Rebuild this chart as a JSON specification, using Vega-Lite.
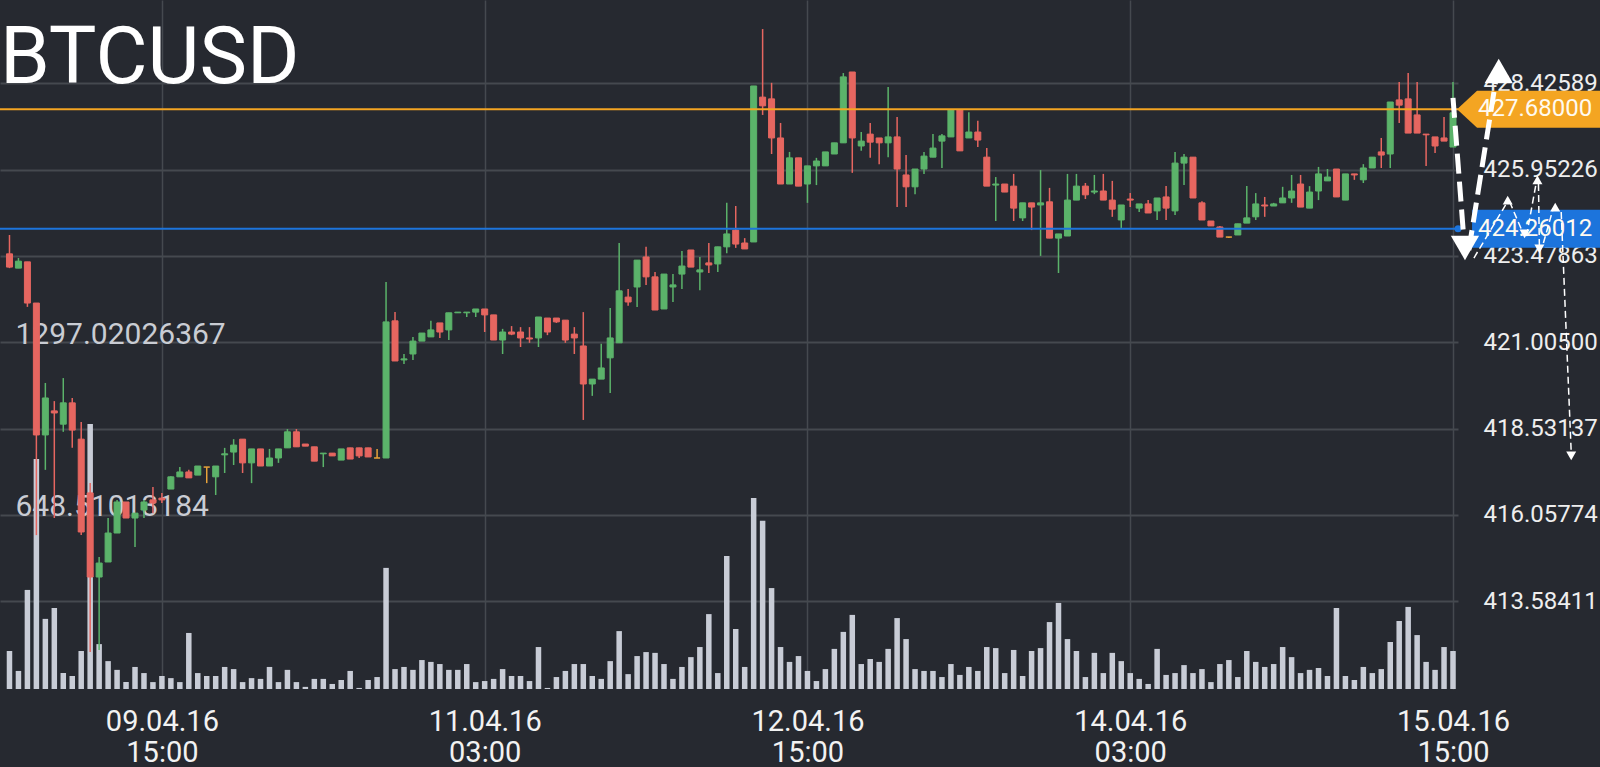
{
"$schema": "https://vega.github.io/schema/vega-lite/v6.json",
"width": 1458,
"height": 689,
"autosize": {"type": "none"},
"padding": {"left": 0, "top": 0, "right": 142, "bottom": 78},
"background": "#262930",
"config": {"view": {"stroke": null}, "font": "Roboto"},
"datasets": {
"candles": [
{"t":"2016-04-08T22:00Z","o":423.54,"h":424.08,"l":423.13,"c":423.16,"v":143},
{"t":"2016-04-08T23:00Z","o":423.13,"h":423.42,"l":423.13,"c":423.33,"v":68},
{"t":"2016-04-09T00:00Z","o":423.31,"h":423.31,"l":422.02,"c":422.13,"v":373},
{"t":"2016-04-09T01:00Z","o":422.13,"h":422.13,"l":415.48,"c":418.35,"v":866},
{"t":"2016-04-09T02:00Z","o":418.35,"h":419.84,"l":417.35,"c":419.41,"v":264},
{"t":"2016-04-09T03:00Z","o":419.04,"h":419.32,"l":415.97,"c":418.98,"v":305},
{"t":"2016-04-09T04:00Z","o":418.66,"h":419.98,"l":418.44,"c":419.27,"v":60},
{"t":"2016-04-09T05:00Z","o":419.27,"h":419.41,"l":417.98,"c":418.49,"v":49},
{"t":"2016-04-09T06:00Z","o":418.23,"h":418.72,"l":415.48,"c":415.57,"v":143},
{"t":"2016-04-09T07:00Z","o":416.69,"h":416.97,"l":412.13,"c":414.28,"v":998},
{"t":"2016-04-09T08:00Z","o":414.28,"h":414.85,"l":412.19,"c":414.68,"v":169},
{"t":"2016-04-09T09:00Z","o":414.71,"h":415.97,"l":414.71,"c":415.54,"v":105},
{"t":"2016-04-09T10:00Z","o":415.54,"h":416.49,"l":415.54,"c":416.43,"v":72},
{"t":"2016-04-09T11:00Z","o":416.43,"h":416.43,"l":415.97,"c":415.97,"v":26},
{"t":"2016-04-09T12:00Z","o":415.97,"h":416.11,"l":415.14,"c":416.11,"v":83},
{"t":"2016-04-09T13:00Z","o":416.20,"h":416.49,"l":415.97,"c":416.43,"v":60},
{"t":"2016-04-09T14:00Z","o":416.49,"h":416.86,"l":416.11,"c":416.40,"v":26},
{"t":"2016-04-09T15:00Z","o":416.54,"h":416.69,"l":416.40,"c":416.49,"v":49},
{"t":"2016-04-09T16:00Z","o":416.80,"h":417.17,"l":416.80,"c":417.15,"v":41},
{"t":"2016-04-09T17:00Z","o":417.15,"h":417.43,"l":417.15,"c":417.29,"v":26},
{"t":"2016-04-09T18:00Z","o":417.29,"h":417.35,"l":417.12,"c":417.12,"v":211},
{"t":"2016-04-09T19:00Z","o":417.20,"h":417.46,"l":417.20,"c":417.46,"v":60},
{"t":"2016-04-09T20:00Z","o":417.43,"h":417.43,"l":416.97,"c":417.43,"v":49},
{"t":"2016-04-09T21:00Z","o":417.15,"h":417.46,"l":416.63,"c":417.46,"v":49},
{"t":"2016-04-09T22:00Z","o":417.78,"h":417.98,"l":417.26,"c":417.81,"v":83},
{"t":"2016-04-09T23:00Z","o":417.86,"h":418.23,"l":417.49,"c":418.06,"v":75},
{"t":"2016-04-10T00:00Z","o":418.23,"h":418.23,"l":417.26,"c":417.55,"v":26},
{"t":"2016-04-10T01:00Z","o":417.55,"h":417.95,"l":416.97,"c":417.95,"v":41},
{"t":"2016-04-10T02:00Z","o":417.95,"h":417.95,"l":417.46,"c":417.46,"v":38},
{"t":"2016-04-10T03:00Z","o":417.46,"h":417.95,"l":417.46,"c":417.69,"v":83},
{"t":"2016-04-10T04:00Z","o":417.69,"h":417.95,"l":417.55,"c":417.95,"v":26},
{"t":"2016-04-10T05:00Z","o":417.98,"h":418.52,"l":417.98,"c":418.44,"v":72},
{"t":"2016-04-10T06:00Z","o":418.44,"h":418.52,"l":418.01,"c":418.01,"v":26},
{"t":"2016-04-10T07:00Z","o":418.09,"h":418.09,"l":418.03,"c":418.03,"v":8},
{"t":"2016-04-10T08:00Z","o":418.01,"h":418.01,"l":417.60,"c":417.60,"v":38},
{"t":"2016-04-10T09:00Z","o":417.81,"h":417.83,"l":417.43,"c":417.83,"v":38},
{"t":"2016-04-10T10:00Z","o":417.83,"h":417.83,"l":417.75,"c":417.75,"v":19},
{"t":"2016-04-10T11:00Z","o":417.63,"h":417.95,"l":417.63,"c":417.95,"v":34},
{"t":"2016-04-10T12:00Z","o":417.98,"h":417.98,"l":417.66,"c":417.66,"v":68},
{"t":"2016-04-10T13:00Z","o":417.98,"h":417.98,"l":417.69,"c":417.75,"v":4},
{"t":"2016-04-10T14:00Z","o":417.98,"h":417.98,"l":417.72,"c":417.72,"v":34},
{"t":"2016-04-10T15:00Z","o":417.69,"h":417.95,"l":417.69,"c":417.69,"v":45},
{"t":"2016-04-10T16:00Z","o":417.69,"h":422.73,"l":417.69,"c":421.59,"v":456},
{"t":"2016-04-10T17:00Z","o":421.62,"h":421.87,"l":420.47,"c":420.47,"v":75},
{"t":"2016-04-10T18:00Z","o":420.50,"h":420.67,"l":420.38,"c":420.53,"v":83},
{"t":"2016-04-10T19:00Z","o":420.67,"h":421.16,"l":420.50,"c":421.04,"v":72},
{"t":"2016-04-10T20:00Z","o":421.04,"h":421.27,"l":421.04,"c":421.27,"v":109},
{"t":"2016-04-10T21:00Z","o":421.16,"h":421.62,"l":421.16,"c":421.36,"v":102},
{"t":"2016-04-10T22:00Z","o":421.56,"h":421.56,"l":421.13,"c":421.30,"v":94},
{"t":"2016-04-10T23:00Z","o":421.36,"h":421.85,"l":421.07,"c":421.85,"v":72},
{"t":"2016-04-11T00:00Z","o":421.85,"h":421.87,"l":421.85,"c":421.87,"v":72},
{"t":"2016-04-11T01:00Z","o":421.85,"h":421.87,"l":421.73,"c":421.87,"v":94},
{"t":"2016-04-11T02:00Z","o":421.87,"h":421.96,"l":421.73,"c":421.96,"v":26},
{"t":"2016-04-11T03:00Z","o":421.96,"h":421.96,"l":421.30,"c":421.79,"v":30},
{"t":"2016-04-11T04:00Z","o":421.79,"h":421.79,"l":421.07,"c":421.07,"v":38},
{"t":"2016-04-11T05:00Z","o":421.07,"h":421.39,"l":420.67,"c":421.30,"v":75},
{"t":"2016-04-11T06:00Z","o":421.30,"h":421.47,"l":421.21,"c":421.24,"v":49},
{"t":"2016-04-11T07:00Z","o":421.30,"h":421.44,"l":420.87,"c":421.13,"v":49},
{"t":"2016-04-11T08:00Z","o":421.13,"h":421.44,"l":420.99,"c":421.10,"v":30},
{"t":"2016-04-11T09:00Z","o":421.13,"h":421.73,"l":420.87,"c":421.73,"v":158},
{"t":"2016-04-11T10:00Z","o":421.70,"h":421.70,"l":421.21,"c":421.30,"v":4},
{"t":"2016-04-11T11:00Z","o":421.70,"h":421.70,"l":421.56,"c":421.59,"v":45},
{"t":"2016-04-11T12:00Z","o":421.64,"h":421.64,"l":420.99,"c":421.07,"v":68},
{"t":"2016-04-11T13:00Z","o":421.24,"h":421.44,"l":420.67,"c":421.13,"v":94},
{"t":"2016-04-11T14:00Z","o":420.90,"h":421.87,"l":418.78,"c":419.81,"v":94},
{"t":"2016-04-11T15:00Z","o":419.81,"h":419.95,"l":419.47,"c":419.95,"v":49},
{"t":"2016-04-11T16:00Z","o":419.95,"h":420.96,"l":419.95,"c":420.27,"v":38},
{"t":"2016-04-11T17:00Z","o":420.56,"h":421.99,"l":419.55,"c":421.13,"v":105},
{"t":"2016-04-11T18:00Z","o":420.99,"h":423.85,"l":420.99,"c":422.48,"v":218},
{"t":"2016-04-11T19:00Z","o":422.30,"h":422.53,"l":422.05,"c":422.16,"v":56},
{"t":"2016-04-11T20:00Z","o":422.59,"h":423.36,"l":422.02,"c":423.36,"v":124},
{"t":"2016-04-11T21:00Z","o":423.45,"h":423.74,"l":422.65,"c":422.88,"v":139},
{"t":"2016-04-11T22:00Z","o":422.88,"h":423.02,"l":421.93,"c":421.93,"v":136},
{"t":"2016-04-11T23:00Z","o":421.96,"h":422.96,"l":421.96,"c":422.96,"v":94},
{"t":"2016-04-12T00:00Z","o":422.59,"h":422.96,"l":422.16,"c":422.65,"v":38},
{"t":"2016-04-12T01:00Z","o":422.96,"h":423.62,"l":422.53,"c":423.19,"v":83},
{"t":"2016-04-12T02:00Z","o":423.65,"h":423.65,"l":423.16,"c":423.16,"v":120},
{"t":"2016-04-12T03:00Z","o":423.02,"h":423.45,"l":422.50,"c":423.08,"v":158},
{"t":"2016-04-12T04:00Z","o":423.28,"h":423.85,"l":422.99,"c":423.22,"v":282},
{"t":"2016-04-12T05:00Z","o":423.25,"h":423.74,"l":423.02,"c":423.74,"v":60},
{"t":"2016-04-12T06:00Z","o":423.74,"h":425.00,"l":423.56,"c":424.11,"v":501},
{"t":"2016-04-12T07:00Z","o":424.22,"h":424.91,"l":423.71,"c":423.82,"v":226},
{"t":"2016-04-12T08:00Z","o":423.85,"h":423.99,"l":423.68,"c":423.68,"v":83},
{"t":"2016-04-12T09:00Z","o":423.88,"h":428.35,"l":423.88,"c":428.35,"v":719},
{"t":"2016-04-12T10:00Z","o":428.03,"h":429.98,"l":427.52,"c":427.78,"v":633},
{"t":"2016-04-12T11:00Z","o":427.98,"h":428.44,"l":426.40,"c":426.86,"v":380},
{"t":"2016-04-12T12:00Z","o":426.86,"h":427.29,"l":425.54,"c":425.54,"v":158},
{"t":"2016-04-12T13:00Z","o":425.54,"h":426.46,"l":425.54,"c":426.29,"v":102},
{"t":"2016-04-12T14:00Z","o":426.29,"h":426.29,"l":425.48,"c":425.48,"v":124},
{"t":"2016-04-12T15:00Z","o":425.54,"h":426.06,"l":425.00,"c":426.06,"v":68},
{"t":"2016-04-12T16:00Z","o":426.06,"h":426.29,"l":425.51,"c":426.20,"v":30},
{"t":"2016-04-12T17:00Z","o":426.06,"h":426.46,"l":426.06,"c":426.46,"v":75},
{"t":"2016-04-12T18:00Z","o":426.40,"h":426.72,"l":426.40,"c":426.72,"v":151},
{"t":"2016-04-12T19:00Z","o":426.72,"h":428.72,"l":426.72,"c":428.61,"v":215},
{"t":"2016-04-12T20:00Z","o":428.75,"h":428.75,"l":425.86,"c":426.86,"v":279},
{"t":"2016-04-12T21:00Z","o":426.63,"h":427.03,"l":426.49,"c":426.77,"v":94},
{"t":"2016-04-12T22:00Z","o":426.97,"h":427.29,"l":426.29,"c":426.74,"v":113},
{"t":"2016-04-12T23:00Z","o":426.86,"h":426.86,"l":426.11,"c":426.72,"v":102},
{"t":"2016-04-13T00:00Z","o":426.72,"h":428.32,"l":426.31,"c":426.89,"v":151},
{"t":"2016-04-13T01:00Z","o":426.89,"h":427.46,"l":424.88,"c":425.97,"v":267},
{"t":"2016-04-13T02:00Z","o":425.80,"h":426.37,"l":424.88,"c":425.46,"v":188},
{"t":"2016-04-13T03:00Z","o":425.46,"h":425.97,"l":425.25,"c":425.97,"v":75},
{"t":"2016-04-13T04:00Z","o":425.97,"h":426.46,"l":425.83,"c":426.34,"v":68},
{"t":"2016-04-13T05:00Z","o":426.31,"h":426.97,"l":426.31,"c":426.57,"v":68},
{"t":"2016-04-13T06:00Z","o":426.77,"h":426.97,"l":426.00,"c":426.92,"v":45},
{"t":"2016-04-13T07:00Z","o":426.89,"h":427.66,"l":426.89,"c":427.66,"v":94},
{"t":"2016-04-13T08:00Z","o":427.66,"h":427.66,"l":426.49,"c":426.49,"v":53},
{"t":"2016-04-13T09:00Z","o":426.86,"h":427.60,"l":426.86,"c":427.03,"v":83},
{"t":"2016-04-13T10:00Z","o":427.03,"h":427.35,"l":426.60,"c":426.80,"v":68},
{"t":"2016-04-13T11:00Z","o":426.31,"h":426.57,"l":425.48,"c":425.48,"v":158},
{"t":"2016-04-13T12:00Z","o":425.51,"h":425.74,"l":424.48,"c":425.54,"v":154},
{"t":"2016-04-13T13:00Z","o":425.54,"h":425.54,"l":425.31,"c":425.31,"v":60},
{"t":"2016-04-13T14:00Z","o":425.48,"h":425.83,"l":424.48,"c":424.85,"v":147},
{"t":"2016-04-13T15:00Z","o":424.57,"h":425.00,"l":424.48,"c":425.00,"v":49},
{"t":"2016-04-13T16:00Z","o":425.00,"h":425.00,"l":424.22,"c":424.88,"v":143},
{"t":"2016-04-13T17:00Z","o":424.94,"h":425.94,"l":423.48,"c":425.00,"v":154},
{"t":"2016-04-13T18:00Z","o":425.03,"h":425.43,"l":423.99,"c":423.99,"v":252},
{"t":"2016-04-13T19:00Z","o":423.99,"h":424.11,"l":422.99,"c":424.11,"v":324},
{"t":"2016-04-13T20:00Z","o":424.05,"h":425.83,"l":424.05,"c":425.08,"v":188},
{"t":"2016-04-13T21:00Z","o":425.08,"h":425.83,"l":425.08,"c":425.48,"v":143},
{"t":"2016-04-13T22:00Z","o":425.48,"h":425.57,"l":425.11,"c":425.23,"v":45},
{"t":"2016-04-13T23:00Z","o":425.31,"h":425.80,"l":425.25,"c":425.34,"v":136},
{"t":"2016-04-14T00:00Z","o":425.34,"h":425.83,"l":425.08,"c":425.08,"v":60},
{"t":"2016-04-14T01:00Z","o":425.08,"h":425.63,"l":424.60,"c":424.82,"v":136},
{"t":"2016-04-14T02:00Z","o":424.51,"h":424.94,"l":424.28,"c":424.94,"v":105},
{"t":"2016-04-14T03:00Z","o":425.11,"h":425.28,"l":424.88,"c":425.08,"v":60},
{"t":"2016-04-14T04:00Z","o":424.85,"h":424.97,"l":424.74,"c":424.97,"v":38},
{"t":"2016-04-14T05:00Z","o":424.97,"h":425.08,"l":424.71,"c":424.71,"v":19},
{"t":"2016-04-14T06:00Z","o":424.77,"h":425.14,"l":424.51,"c":425.14,"v":151},
{"t":"2016-04-14T07:00Z","o":425.17,"h":425.48,"l":424.51,"c":424.85,"v":53},
{"t":"2016-04-14T08:00Z","o":424.77,"h":426.46,"l":424.65,"c":426.14,"v":60},
{"t":"2016-04-14T09:00Z","o":426.14,"h":426.40,"l":425.51,"c":426.31,"v":90},
{"t":"2016-04-14T10:00Z","o":426.31,"h":426.31,"l":425.14,"c":425.14,"v":60},
{"t":"2016-04-14T11:00Z","o":425.00,"h":425.05,"l":424.51,"c":424.51,"v":75},
{"t":"2016-04-14T12:00Z","o":424.48,"h":424.48,"l":424.34,"c":424.34,"v":26},
{"t":"2016-04-14T13:00Z","o":424.31,"h":424.34,"l":424.02,"c":424.02,"v":94},
{"t":"2016-04-14T14:00Z","o":424.02,"h":424.02,"l":423.99,"c":424.02,"v":109},
{"t":"2016-04-14T15:00Z","o":424.08,"h":424.40,"l":424.08,"c":424.40,"v":45},
{"t":"2016-04-14T16:00Z","o":424.42,"h":425.48,"l":424.42,"c":424.57,"v":143},
{"t":"2016-04-14T17:00Z","o":424.60,"h":425.28,"l":424.51,"c":424.97,"v":102},
{"t":"2016-04-14T18:00Z","o":424.94,"h":425.17,"l":424.60,"c":424.91,"v":83},
{"t":"2016-04-14T19:00Z","o":424.91,"h":425.00,"l":424.91,"c":424.97,"v":94},
{"t":"2016-04-14T20:00Z","o":425.00,"h":425.46,"l":425.00,"c":425.14,"v":158},
{"t":"2016-04-14T21:00Z","o":425.14,"h":425.80,"l":425.00,"c":425.34,"v":120},
{"t":"2016-04-14T22:00Z","o":425.54,"h":425.80,"l":424.88,"c":424.88,"v":60},
{"t":"2016-04-14T23:00Z","o":424.85,"h":425.48,"l":424.85,"c":425.31,"v":72},
{"t":"2016-04-15T00:00Z","o":425.34,"h":426.03,"l":425.08,"c":425.83,"v":79},
{"t":"2016-04-15T01:00Z","o":425.63,"h":425.97,"l":425.63,"c":425.74,"v":49},
{"t":"2016-04-15T02:00Z","o":425.97,"h":425.97,"l":425.17,"c":425.17,"v":305},
{"t":"2016-04-15T03:00Z","o":425.08,"h":425.83,"l":425.08,"c":425.83,"v":49},
{"t":"2016-04-15T04:00Z","o":425.83,"h":425.83,"l":425.66,"c":425.80,"v":34},
{"t":"2016-04-15T05:00Z","o":425.66,"h":426.11,"l":425.57,"c":426.00,"v":83},
{"t":"2016-04-15T06:00Z","o":426.00,"h":426.31,"l":426.00,"c":426.31,"v":60},
{"t":"2016-04-15T07:00Z","o":426.46,"h":426.86,"l":426.00,"c":426.37,"v":75},
{"t":"2016-04-15T08:00Z","o":426.40,"h":427.89,"l":426.00,"c":427.89,"v":177},
{"t":"2016-04-15T09:00Z","o":427.95,"h":428.46,"l":427.29,"c":427.80,"v":256},
{"t":"2016-04-15T10:00Z","o":427.98,"h":428.72,"l":427.00,"c":427.00,"v":309},
{"t":"2016-04-15T11:00Z","o":427.52,"h":428.46,"l":427.00,"c":427.00,"v":203},
{"t":"2016-04-15T12:00Z","o":426.97,"h":426.97,"l":426.06,"c":426.95,"v":102},
{"t":"2016-04-15T13:00Z","o":426.89,"h":426.89,"l":426.43,"c":426.63,"v":72},
{"t":"2016-04-15T14:00Z","o":426.86,"h":427.46,"l":426.77,"c":426.77,"v":158},
{"t":"2016-04-15T15:00Z","o":426.60,"h":428.46,"l":426.60,"c":427.58,"v":143}
],
"levels": [
{"kind": "last", "price": 427.68, "label": "427.68000"},
{"kind": "bid", "price": 424.26012, "label": "424.26012"}
],
"symbol": [
{"name": "BTCUSD", "t": "2016-04-08T21:30Z", "p": 428.43}
],
"arrows": [
{"arrow":"A","w":"thick","t":"2016-04-15T15:00Z","p":428.01},
{"arrow":"A","w":"thick","t":"2016-04-15T16:13Z","p":423.94},
{"arrow":"B","w":"thick","t":"2016-04-15T16:46Z","p":423.65},
{"arrow":"B","w":"thick","t":"2016-04-15T19:52Z","p":428.66},
{"arrow":"C","w":"thin","t":"2016-04-15T17:20Z","p":423.42},
{"arrow":"C","w":"thin","t":"2016-04-15T20:52Z","p":424.94},
{"arrow":"D","w":"thin","t":"2016-04-15T21:19Z","p":425.03},
{"arrow":"D","w":"thin","t":"2016-04-15T22:45Z","p":424.17},
{"arrow":"E","w":"thin","t":"2016-04-15T23:12Z","p":424.05},
{"arrow":"E","w":"thin","t":"2016-04-16T00:18Z","p":425.60},
{"arrow":"F","w":"thin","t":"2016-04-16T00:32Z","p":425.54},
{"arrow":"F","w":"thin","t":"2016-04-16T00:38Z","p":423.76},
{"arrow":"G","w":"thin","t":"2016-04-16T01:05Z","p":423.85},
{"arrow":"G","w":"thin","t":"2016-04-16T02:11Z","p":424.85},
{"arrow":"H","w":"thin","t":"2016-04-16T03:04Z","p":424.74},
{"arrow":"H","w":"thin","t":"2016-04-16T04:11Z","p":417.86}
],
"heads": [
{"w":"thick","dir":"down","t":"2016-04-15T16:20Z","p":423.71},
{"w":"thick","dir":"up","t":"2016-04-15T20:06Z","p":428.78},
{"w":"thin","dir":"up","t":"2016-04-15T21:06Z","p":425.08},
{"w":"thin","dir":"down","t":"2016-04-15T22:59Z","p":424.11},
{"w":"thin","dir":"up","t":"2016-04-16T00:25Z","p":425.66},
{"w":"thin","dir":"down","t":"2016-04-16T00:38Z","p":423.68},
{"w":"thin","dir":"up","t":"2016-04-16T02:24Z","p":424.88},
{"w":"thin","dir":"down","t":"2016-04-16T04:11Z","p":417.75}
]
},
"layer": [
{
"data": {"name": "candles"},
"mark": {"type": "bar", "size": 5.5, "color": "#c8ccd6"},
"encoding": {
"x": {"field": "t", "type": "temporal",
"scale": {"type": "utc", "domain": [{"year":2016,"month":4,"date":8,"hours":21,"minutes":30,"utc":true},{"year":2016,"month":4,"date":15,"hours":15,"utc":true}]},
"axis": {"values": [{"year":2016,"month":4,"date":9,"hours":15,"utc":true},{"year":2016,"month":4,"date":11,"hours":3,"utc":true},{"year":2016,"month":4,"date":12,"hours":15,"utc":true},{"year":2016,"month":4,"date":14,"hours":3,"utc":true},{"year":2016,"month":4,"date":15,"hours":15,"utc":true}],
"labelExpr": "[utcFormat(datum.value, '%d.%m.%y'), utcFormat(datum.value, '%H:%M')]",
"grid": true, "gridColor": "#45494f", "gridWidth": 1.5, "domain": false, "ticks": false,
"labelPadding": 41, "labelBaseline": "alphabetic", "labelLineHeight": 31, "labelFontSize": 29, "labelFont": "Roboto", "labelColor": "#f2f2f2", "labelFlush": false, "labelOverlap": false, "labelLimit": 0, "title": null, "zindex": 0}},
"y": {"field": "v", "type": "quantitative", "scale": {"domain": [0, 2594.04], "nice": false, "zero": true},
"axis": {"orient": "left", "values": [648.51013184, 1297.02026367], "labelExpr": "format(datum.value, '.8f')", "grid": false, "domain": false, "ticks": false, "labelAlign": "left", "labelPadding": -15, "labelBaseline": "alphabetic", "labelOffset": -1, "labelFontSize": 30, "labelFont": "Roboto", "labelColor": "#c9ccd3", "labelOverlap": false, "labelLimit": 0, "title": null, "zindex": 0}}
}
},
{
"layer": [
{
"data": {"name": "candles"},
"mark": {"type": "rule", "strokeWidth": 1.5},
"encoding": {
"x": {"field": "t", "type": "temporal", "scale": {"type": "utc", "domain": [{"year":2016,"month":4,"date":8,"hours":21,"minutes":30,"utc":true},{"year":2016,"month":4,"date":15,"hours":15,"utc":true}]}},
"y": {"field": "l", "type": "quantitative", "scale": {"domain": [411.071, 430.813], "nice": false, "zero": false},
"axis": {"orient": "right", "values": [413.58411, 416.05774, 418.53137, 421.005, 423.47863, 425.95226, 428.42589], "format": ".5f", "grid": true, "gridColor": "#45494f", "gridWidth": 2, "domain": false, "ticks": false, "labelPadding": 25, "labelAlign": "left", "labelBaseline": "middle", "labelFontSize": 24, "labelFont": "Roboto", "labelColor": "#eeeeee", "labelOverlap": false, "labelLimit": 0, "title": null, "zindex": 0}},
"y2": {"field": "h"},
"color": {"condition": [{"test": "datum.c > datum.o", "value": "#5bb36a"}, {"test": "datum.c < datum.o", "value": "#e66660"}], "value": "#e8a33a"}
}
},
{
"data": {"name": "candles"},
"mark": {"type": "bar", "size": 6, "strokeWidth": 1},
"encoding": {
"x": {"field": "t", "type": "temporal", "scale": {"type": "utc", "domain": [{"year":2016,"month":4,"date":8,"hours":21,"minutes":30,"utc":true},{"year":2016,"month":4,"date":15,"hours":15,"utc":true}]}},
"y": {"field": "o", "type": "quantitative", "scale": {"domain": [411.071, 430.813], "nice": false, "zero": false}},
"y2": {"field": "c"},
"color": {"condition": [{"test": "datum.c > datum.o", "value": "#5bb36a"}, {"test": "datum.c < datum.o", "value": "#e66660"}], "value": "#e8a33a"},
"stroke": {"condition": [{"test": "datum.c > datum.o", "value": "#5bb36a"}, {"test": "datum.c < datum.o", "value": "#e66660"}], "value": "#e8a33a"}
}
},
{
"data": {"name": "symbol"},
"mark": {"type": "text", "align": "left", "baseline": "alphabetic", "dx": -5, "fontSize": 80, "font": "Roboto", "color": "#ffffff"},
"encoding": {
"x": {"field": "t", "type": "temporal", "scale": {"type": "utc", "domain": [{"year":2016,"month":4,"date":8,"hours":21,"minutes":30,"utc":true},{"year":2016,"month":4,"date":15,"hours":15,"utc":true}]}},
"y": {"field": "p", "type": "quantitative", "scale": {"domain": [411.071, 430.813], "nice": false, "zero": false}},
"text": {"field": "name"}
}
},
{
"data": {"name": "levels"},
"mark": {"type": "rule", "strokeWidth": 2},
"encoding": {
"y": {"field": "price", "type": "quantitative", "scale": {"domain": [411.071, 430.813], "nice": false, "zero": false}},
"color": {"field": "kind", "type": "nominal", "scale": {"domain": ["last", "bid"], "range": ["#f4a522", "#1c74dc"]}, "legend": null}
}
},
{
"data": {"name": "levels"},
"mark": {"type": "point", "filled": true, "opacity": 1, "size": 1369, "strokeWidth": 0},
"encoding": {
"x": {"datum": {"year":2016,"month":4,"date":15,"hours":15,"utc":true}, "type": "temporal", "scale": {"type": "utc", "domain": [{"year":2016,"month":4,"date":8,"hours":21,"minutes":30,"utc":true},{"year":2016,"month":4,"date":15,"hours":15,"utc":true}]}},
"y": {"field": "price", "type": "quantitative", "scale": {"domain": [411.071, 430.813], "nice": false, "zero": false}},
"shape": {"field": "kind", "type": "nominal", "scale": {"domain": ["last", "bid"], "range": ["M0.22,0L1.3,-1L8,-1L8,1L1.3,1Z", "M1.03,-1.03L8,-1.03L8,1.03L1.03,1.03Z"]}, "legend": null},
"color": {"field": "kind", "type": "nominal", "scale": {"domain": ["last", "bid"], "range": ["#f4a522", "#1c74dc"]}, "legend": null}
}
},
{
"data": {"name": "levels"},
"mark": {"type": "point", "filled": true, "shape": "circle", "size": 50, "xOffset": 5, "strokeWidth": 0},
"encoding": {
"x": {"datum": {"year":2016,"month":4,"date":15,"hours":15,"utc":true}, "type": "temporal", "scale": {"type": "utc", "domain": [{"year":2016,"month":4,"date":8,"hours":21,"minutes":30,"utc":true},{"year":2016,"month":4,"date":15,"hours":15,"utc":true}]}},
"y": {"field": "price", "type": "quantitative", "scale": {"domain": [411.071, 430.813], "nice": false, "zero": false}},
"color": {"field": "kind", "type": "nominal", "scale": {"domain": ["last", "bid"], "range": ["#f4a522", "#1c74dc"]}, "legend": null},
"opacity": {"condition": {"test": "datum.kind == 'bid'", "value": 1}, "value": 0}
}
},
{
"data": {"name": "levels"},
"mark": {"type": "text", "align": "left", "baseline": "middle", "dx": 25, "fontSize": 24, "font": "Roboto", "color": "#fffaf0"},
"encoding": {
"x": {"datum": {"year":2016,"month":4,"date":15,"hours":15,"utc":true}, "type": "temporal", "scale": {"type": "utc", "domain": [{"year":2016,"month":4,"date":8,"hours":21,"minutes":30,"utc":true},{"year":2016,"month":4,"date":15,"hours":15,"utc":true}]}},
"y": {"field": "price", "type": "quantitative", "scale": {"domain": [411.071, 430.813], "nice": false, "zero": false}},
"text": {"field": "label"}
}
},
{
"data": {"name": "arrows"},
"mark": {"type": "line", "color": "#ffffff", "strokeCap": "butt"},
"encoding": {
"x": {"field": "t", "type": "temporal", "scale": {"type": "utc", "domain": [{"year":2016,"month":4,"date":8,"hours":21,"minutes":30,"utc":true},{"year":2016,"month":4,"date":15,"hours":15,"utc":true}]}},
"y": {"field": "p", "type": "quantitative", "scale": {"domain": [411.071, 430.813], "nice": false, "zero": false}},
"detail": {"field": "arrow", "type": "nominal"},
"strokeWidth": {"field": "w", "type": "nominal", "scale": {"domain": ["thick", "thin"], "range": [5, 1.5]}, "legend": null},
"strokeDash": {"field": "w", "type": "nominal", "scale": {"domain": ["thick", "thin"], "range": [[20, 8], [7, 4]]}, "legend": null}
}
},
{
"data": {"name": "heads"},
"mark": {"type": "point", "filled": true, "opacity": 1, "color": "#ffffff", "strokeWidth": 0},
"encoding": {
"x": {"field": "t", "type": "temporal", "scale": {"type": "utc", "domain": [{"year":2016,"month":4,"date":8,"hours":21,"minutes":30,"utc":true},{"year":2016,"month":4,"date":15,"hours":15,"utc":true}]}},
"y": {"field": "p", "type": "quantitative", "scale": {"domain": [411.071, 430.813], "nice": false, "zero": false}},
"shape": {"field": "dir", "type": "nominal", "scale": {"domain": ["up", "down"], "range": ["triangle-up", "triangle-down"]}, "legend": null},
"size": {"field": "w", "type": "nominal", "scale": {"domain": ["thick", "thin"], "range": [800, 100]}, "legend": null}
}
}
],
"resolve": {"scale": {"shape": "independent", "size": "independent"}}
}
],
"resolve": {"scale": {"y": "independent"}}
}
